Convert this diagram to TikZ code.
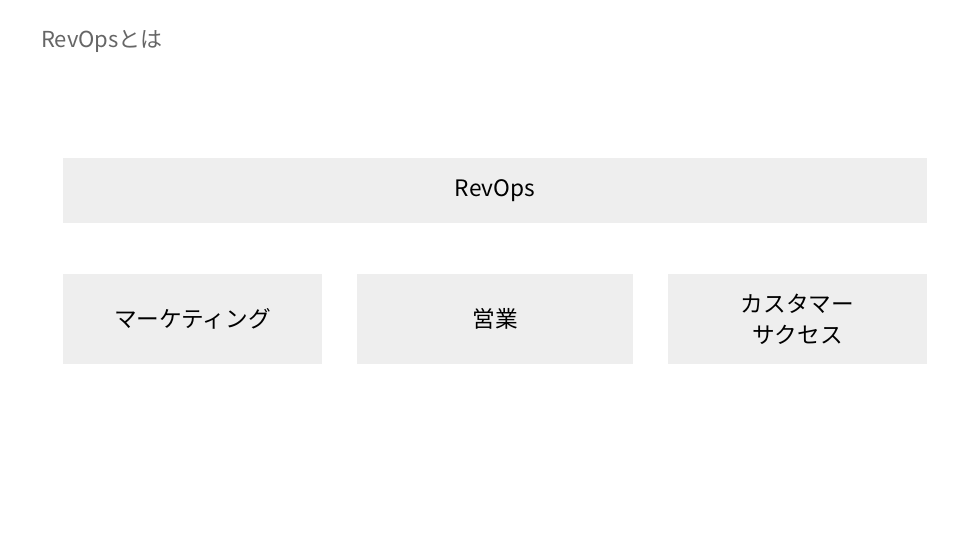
\documentclass[tikz,border=0pt]{standalone}
\usepackage{fontspec}
\setmainfont{Noto Sans CJK JP}
\usetikzlibrary{positioning}
\definecolor{boxgray}{HTML}{EEEEEE}
\definecolor{titlegray}{HTML}{666666}

\begin{document}
\begin{tikzpicture}[x=0.75pt,y=-0.75pt,
semithick]
\tikzstyle{every node}=[inner sep=0pt,outer sep=0pt]
\tikzstyle{area}=[fill=boxgray,draw=none,text=black,align=center,font=\fontsize{17}{23}\selectfont]

\useasboundingbox (0,0) rectangle (960,540);

\node[anchor=west,text=titlegray,font=\fontsize{16.5}{20}\selectfont] (title) at (41,41) {RevOpsとは};

\node[area,minimum width=648pt,minimum height=48.75pt] (revops) at (495,190.5) {RevOps};
\node[area,minimum width=194.25pt,minimum height=67.5pt] (marketing) at (192.5,319) {マーケティング};
\node[area,minimum width=207pt,minimum height=67.5pt] (sales) at (495,319) {営業};
\node[area,minimum width=194.25pt,minimum height=67.5pt] (success) at (797.5,319) {カスタマー\\サクセス};
\end{tikzpicture}
\end{document}
